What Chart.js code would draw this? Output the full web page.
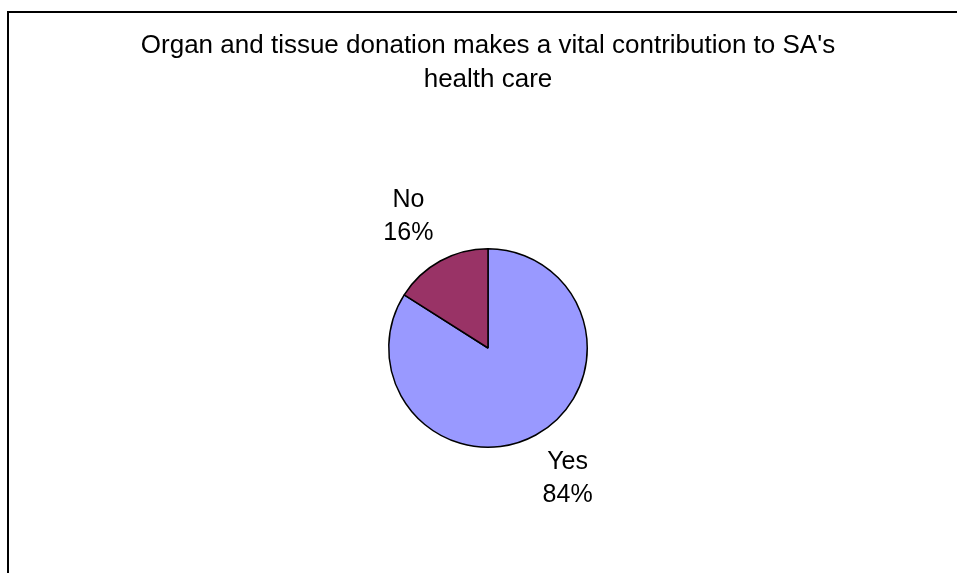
<!DOCTYPE html>
<html>
<head>
<meta charset="utf-8">
<title>Organ and tissue donation</title>
<script src="https://cdn.jsdelivr.net/npm/chart.js@4.4.1/dist/chart.umd.min.js"></script>
<style>
  html, body { margin: 0; padding: 0; background: #ffffff; }
  #wrap { width: 957px; height: 573px; position: relative; }
</style>
</head>
<body>
<div id="wrap"><canvas id="pieChart" width="957" height="573"></canvas></div>
<script>
// Dados do gráfico
const titleLines = ["Organ and tissue donation makes a vital contribution to SA's", 'health care'];
const categories = ['Yes', 'No'];
const percentages = [84, 16];
const sliceColors = ['#9999FF', '#993366'];

const FONT = '"Liberation Sans", Arial, sans-serif';

// Desenha o título, a moldura e os rótulos das fatias
const decorPlugin = {
    id: 'decor',
    afterDraw(chart) {
        const ctx = chart.ctx;
        ctx.save();

        // moldura (só topo e esquerda ficam visíveis)
        ctx.strokeStyle = '#000000';
        ctx.lineWidth = 2;
        ctx.beginPath();
        ctx.moveTo(8, 600);
        ctx.lineTo(8, 12);
        ctx.lineTo(960, 12);
        ctx.stroke();

        // título
        ctx.fillStyle = '#000000';
        ctx.textAlign = 'center';
        ctx.textBaseline = 'alphabetic';
        ctx.font = '26px ' + FONT;
        titleLines.forEach((line, i) => {
            ctx.fillText(line, 488, 53 + i * 34);
        });

        // rótulos: categoria + porcentagem
        const meta = chart.getDatasetMeta(0);
        const nudges = [[0, -8], [0, 20]];
        ctx.font = '25px ' + FONT;
        meta.data.forEach((arc, i) => {
            const mid = (arc.startAngle + arc.endAngle) / 2;
            const dist = arc.outerRadius + 66;
            const cx = arc.x + Math.cos(mid) * dist + nudges[i][0];
            const cy = arc.y + Math.sin(mid) * dist + nudges[i][1];
            ctx.fillText(categories[i], cx, cy - 16);
            ctx.fillText(percentages[i] + '%', cx, cy + 17);
        });

        ctx.restore();
    }
};

new Chart(document.getElementById('pieChart').getContext('2d'), {
    type: 'pie',
    data: {
        labels: categories,
        datasets: [{
            data: percentages,
            backgroundColor: sliceColors,
            borderColor: '#000000',
            borderWidth: 1.5
        }]
    },
    options: {
        responsive: false,
        animation: false,
        layout: {
            padding: { left: 388, right: 369, top: 248, bottom: 125 }
        },
        plugins: {
            legend: { display: false },
            title: { display: false },
            tooltip: { enabled: false }
        }
    },
    plugins: [decorPlugin]
});
</script>
</body>
</html>
